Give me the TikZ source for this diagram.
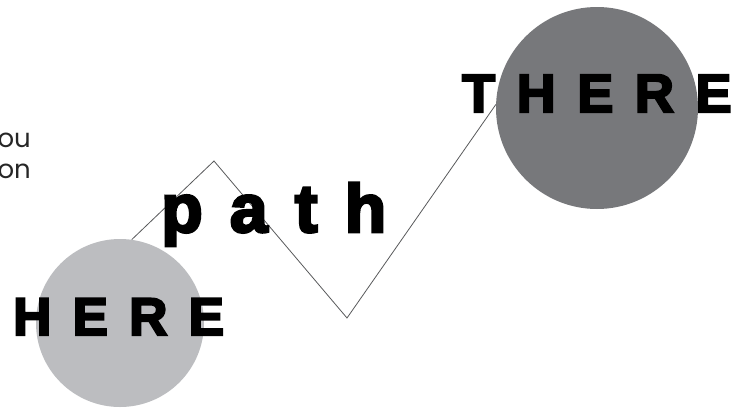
\documentclass[tikz,border=0pt]{standalone}
\usepackage{fontspec}
\setmainfont{Poppins}
\newfontfamily\heavyfont{Liberation Sans Bold}[LetterSpace=40, FakeBold=4]
\usetikzlibrary{positioning}
\definecolor{hereGray}{HTML}{BCBDC0}
\definecolor{thereGray}{HTML}{77787B}
\definecolor{trailGray}{HTML}{58595B}
\tikzset{
  spotLight/.style={circle, fill=hereGray, inner sep=0pt, minimum size=168pt},
  spotDark/.style={circle, fill=thereGray, inner sep=0pt, minimum size=202pt},
  trail/.style={trailGray, line width=0.8pt},
  bigWord/.style={anchor=base west, inner sep=0pt, text=black},
  sideWord/.style={anchor=base east, inner sep=0pt, text=black!85,
                   font=\fontsize{26}{26}\selectfont},
}

\begin{document}
\begin{tikzpicture}[x=1pt, y=-1pt]
    \useasboundingbox (0,0) rectangle (746,407);
    % the two spots
    \node[spotLight] (here) at (120,323) {};
    \node[spotDark] (there) at (597,108) {};
    \coordinate (peak) at (214,161);
    \coordinate (dip) at (347,318);
    \draw[trail] (here.82) -- (peak) -- (dip) -- (there.178);
    % words
    \node[bigWord, font=\heavyfont\fontsize{53}{53}\selectfont] (hereWord) at (13,335) {HERE};
    \node[bigWord, font=\heavyfont\fontsize{54}{54}\selectfont] (thereWord) at (462,112) {THERE};
    \node[bigWord, font=\heavyfont\fontsize{68}{68}\selectfont] (pathWord) at (161,232) {path};
    \node[sideWord] (sideA) at (31,147) {ou};
    \node[sideWord] (sideB) at (31,178) {on};
  \end{tikzpicture}
\end{document}
